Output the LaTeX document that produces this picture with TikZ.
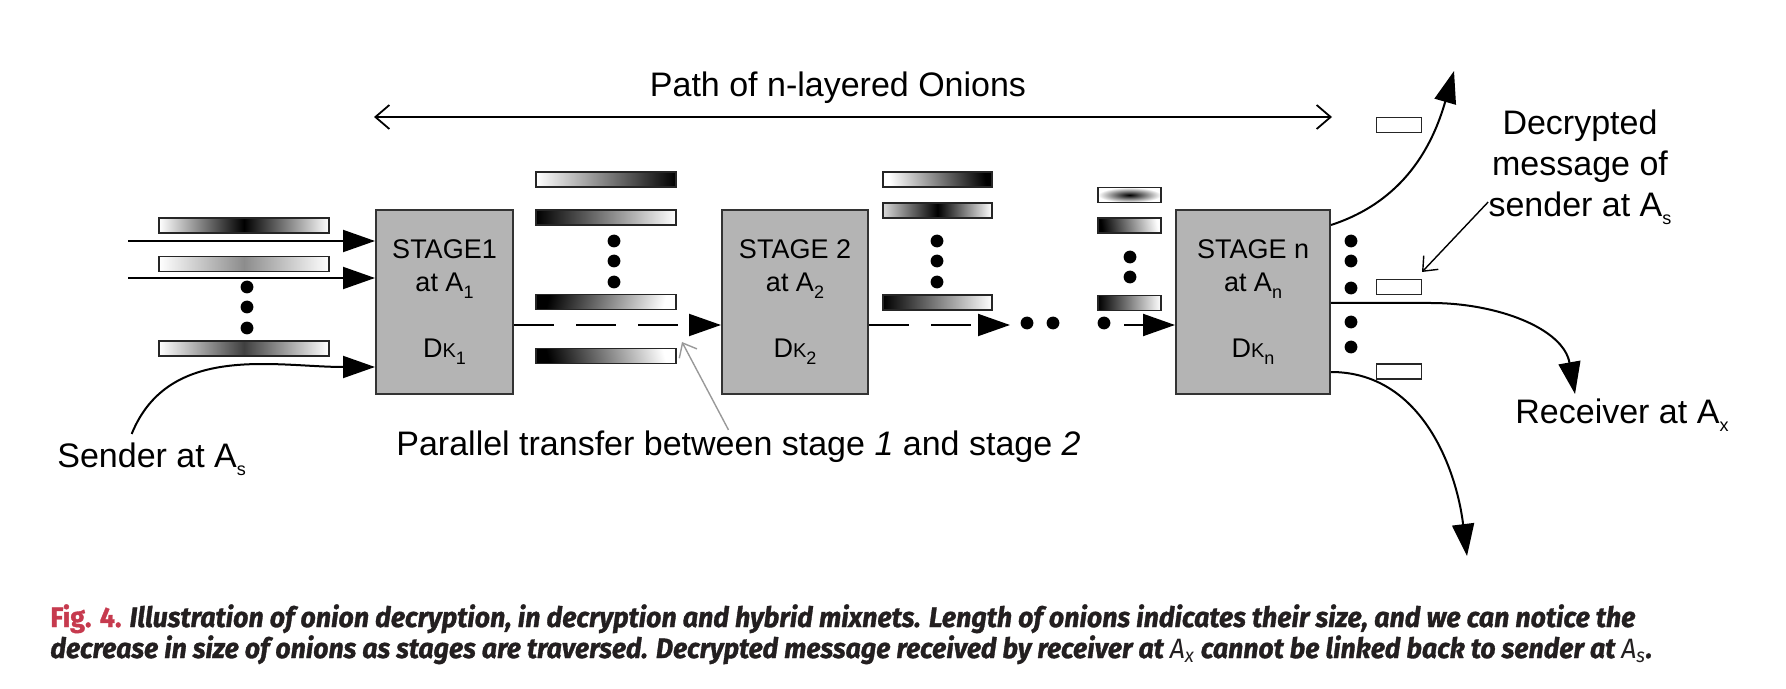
\documentclass[tikz,border=0pt]{standalone}
\usepackage{fontspec}
\usepackage{graphicx}
\setmainfont{Liberation Sans}
\newfontfamily\capfont[FakeBold=1.2]{Fira Sans}
\usetikzlibrary{arrows.meta}
\definecolor{stagegray}{RGB}{180,180,180}
\definecolor{figred}{RGB}{198,58,78}
\definecolor{captext}{RGB}{35,31,32}
\newcommand{\lowsub}[1]{\raisebox{-0.45ex}{\fontsize{9}{9}\selectfont #1}}
\begin{document}
\begin{tikzpicture}[x=0.5pt, y=-0.5pt,
  stage/.style={draw=black!80, line width=1pt, fill=stagegray, minimum height=92pt, inner sep=0pt, align=center, font=\fontsize{13.5}{16.5}\selectfont},
  onion/.style={draw=black!85, line width=0.9pt, inner sep=0pt, minimum height=7.5pt},
  big/.style={-{Triangle[length=16pt, width=11pt]}, line width=1pt},
  pointer/.style={-{Straight Barb[length=6pt, width=10pt]}, line width=0.7pt},
  lbl/.style={inner sep=0pt, font=\fontsize{17}{20.5}\selectfont},
  caption/.style={anchor=base west, inner sep=0pt, text=captext, font=\capfont\bfseries\itshape\fontsize{14}{16}\selectfont}]
\useasboundingbox (0,0) rectangle (1786,689);

\node [stage, minimum width=68.5pt] (stage1) at (444.5,302) {STAGE1\\at A\lowsub{1}\\[16.5pt]D{\fontsize{10}{12}\selectfont K}\lowsub{1}};
\node [stage, minimum width=73pt] (stage2) at (795,302) {STAGE 2\\at A\lowsub{2}\\[16.5pt]D{\fontsize{10}{12}\selectfont K}\lowsub{2}};
\node [stage, minimum width=77pt] (stagen) at (1253,302) {STAGE n\\at A\lowsub{n}\\[16.5pt]D{\fontsize{10}{12}\selectfont K}\lowsub{n}};

% onions before stage 1
\node [onion, minimum width=85pt, left color=white, right color=white, middle color=black] (a1) at (244,225.5) {};
\node [onion, minimum width=85pt, left color=white, right color=white, middle color=black!45] (a2) at (244,264) {};
\node [onion, minimum width=85pt, left color=white, right color=white, middle color=black!75] (a3) at (244,348.5) {};
\foreach \y in {287,307,328} \fill (247,\y) circle (3.2pt);

% onions between stage 1 and stage 2
\node [onion, minimum width=70pt, left color=white, right color=black] (b1) at (606,179.5) {};
\node [onion, minimum width=70pt, left color=black, right color=white] (b2) at (606,217.5) {};
\node [onion, minimum width=70pt, left color=black, right color=white, shading angle=75] (b3) at (606,302) {};
\node [onion, minimum width=70pt, left color=black, right color=white, shading angle=105] (b4) at (606,356) {};
\foreach \y in {241,261,282} \fill (614,\y) circle (3.2pt);

% onions between stage 2 and stage n
\node [onion, minimum width=54.5pt, left color=white, right color=black, shading angle=100] (c1) at (937.5,179.5) {};
\node [onion, minimum width=54.5pt, left color=white!85!black, right color=white, middle color=black] (c2) at (937.5,210.5) {};
\node [onion, minimum width=54.5pt, left color=black, right color=white] (c3) at (937.5,302.5) {};
\foreach \y in {241,261,282} \fill (937,\y) circle (3.2pt);

% onions before stage n
\node [onion, minimum width=31.5pt, inner color=black, outer color=white] (d1) at (1129.5,195) {};
\node [onion, minimum width=31.5pt, left color=black, right color=white, shading angle=100] (d2) at (1129.5,225.5) {};
\node [onion, minimum width=31.5pt, left color=black, right color=white] (d3) at (1129.5,303) {};
\foreach \y in {257,277} \fill (1130,\y) circle (3.2pt);

% decrypted messages
\node [onion, minimum width=22.5pt, fill=white] (e1) at (1399,125) {};
\node [onion, minimum width=22.5pt, fill=white] (e2) at (1399,287) {};
\node [onion, minimum width=22.5pt, fill=white] (e3) at (1399,371.5) {};
\foreach \y in {241,261,288,322,347} \fill (1351,\y) circle (3.2pt);

% labels
\node [lbl, anchor=base] (pathlbl) at (838,97) {Path of n-layered Onions};
\node [lbl, anchor=base west] (sender) at (57,467) {Sender at A\lowsub{s}};
\node [lbl, anchor=base west] (ptext) at (396,455) {Parallel transfer between stage \textit{1} and stage \textit{2}};
\node [lbl, align=center] (dec) at (1580,167) {Decrypted\\message of\\sender at A\lowsub{s}};
\node [lbl, anchor=base west] (receiver) at (1515,423) {Receiver at A\lowsub{x}};

\coordinate (pathL) at (374,117);
\coordinate (pathR) at (1332,117);
\draw [{Straight Barb[length=7pt, width=12pt]}-{Straight Barb[length=7pt, width=12pt]}, line width=0.9pt] (pathL) -- (pathR);

% inputs of stage 1
\coordinate (in1) at (128,241);
\coordinate (in2) at (128,278);
\draw [big] (in1) -- (in1 -| stage1.west);
\draw [big] (in2) -- (in2 -| stage1.west);
\draw [big] ([xshift=-10pt, yshift=4pt]sender.north) to[out=68, in=180] (stage1.west |- 0,367);

% transfers
\draw [big, dash pattern=on 20pt off 11pt] (stage1.east |- 0,325) -- (stage2.west |- 0,325);
\coordinate (mid) at (1010,325);
\draw [big, dash pattern=on 20pt off 11pt] (stage2.east |- 0,325) -- (mid);
\foreach \x in {1027,1053,1104} \fill (\x,323) circle (3.2pt);
\coordinate (last) at (1124,325);
\draw [big] (last) -- (last -| stagen.west);

% outputs of stage n
\coordinate (outtop) at (1454,71);
\coordinate (outmid) at (1575,394);
\coordinate (outbot) at (1467,556);
\draw [big] (stagen.east |- 0,225) to[out=18, in=-106] (outtop);
\draw [big] (stagen.east |- 0,303) -- ++(100,0) to[out=0, in=100] (outmid);
\draw [big] (stagen.east |- 0,372) to[out=0, in=97] (outbot);

% pointers
\coordinate (ptip) at (682,342);
\draw [pointer, draw=black!40] ([xshift=-5pt]ptext.north) -- (ptip);
\coordinate (dtip) at (1422,272);
\draw [pointer] (dec.west |- 0,202) -- (dtip);

% caption
\node [caption] (cap1) at (50,627) {\resizebox{792.5pt}{\height}{{\upshape\color{figred}Fig. 4.} Illustration of onion decryption, in decryption and hybrid mixnets. Length of onions indicates their size, and we can notice the}};
\node [caption] (cap2) at (50,658) {\resizebox{801pt}{\height}{decrease in size of onions as stages are traversed. Decrypted message received by receiver at {\mdseries\addfontfeature{FakeBold=0}A\textsubscript{x}} cannot be linked back to sender at {\mdseries\addfontfeature{FakeBold=0}A\textsubscript{s}}.}};
\end{tikzpicture}
\end{document}
